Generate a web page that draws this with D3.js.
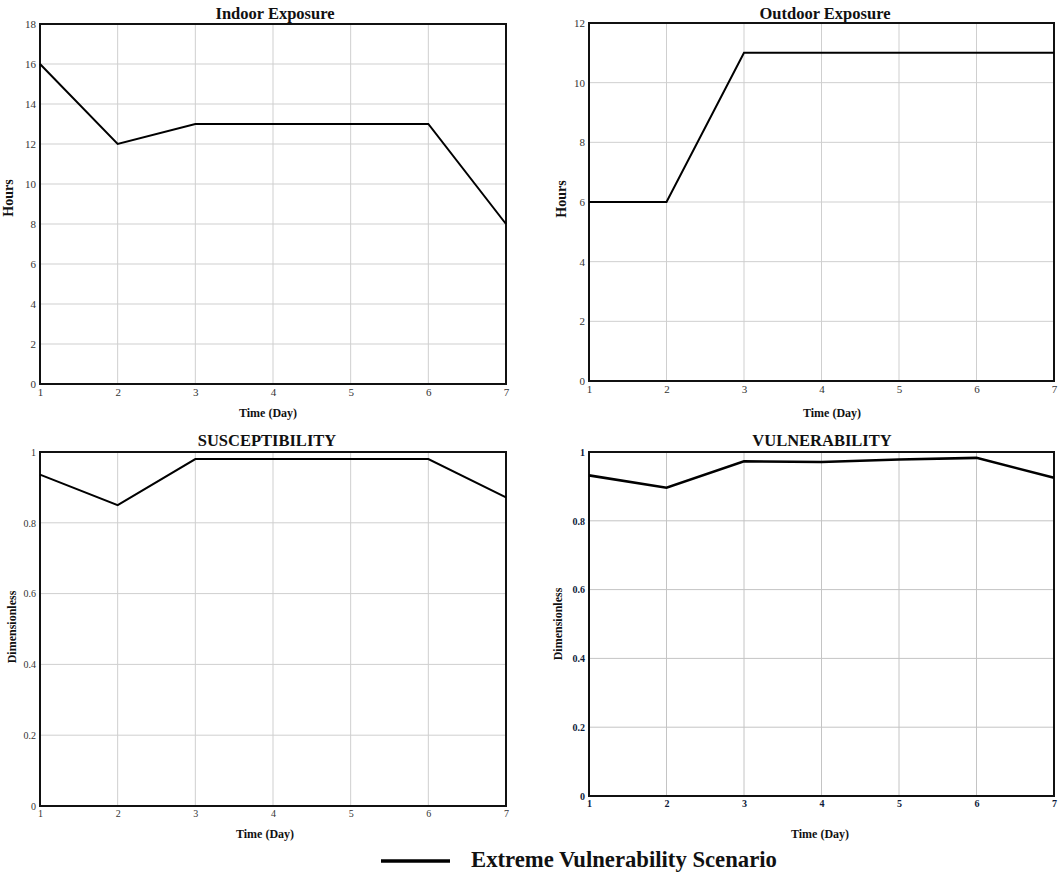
<!DOCTYPE html>
<html>
<head>
<meta charset="utf-8">
<script src="https://cdn.jsdelivr.net/npm/d3@7"></script>
<style>
  html, body { margin: 0; padding: 0; background: #fff; }
  svg { display: block; }
</style>
</head>
<body>
<svg id="chart" width="1059" height="872"></svg>
<script>
// ---- data ----
const days = [1, 2, 3, 4, 5, 6, 7];
const indoorExposure = [16, 12, 13, 13, 13, 13, 8];
const outdoorExposure = [6, 6, 11, 11, 11, 11, 11];
const susceptibility = [0.936, 0.85, 0.98, 0.98, 0.98, 0.98, 0.872];
const vulnerability = [0.932, 0.896, 0.973, 0.971, 0.978, 0.983, 0.925];
const hoursTicksIndoor = [0, 2, 4, 6, 8, 10, 12, 14, 16, 18];
const hoursTicksOutdoor = [0, 2, 4, 6, 8, 10, 12];
const unitTicks = [0, 0.2, 0.4, 0.6, 0.8, 1];
const titles = ["Indoor Exposure", "Outdoor Exposure", "SUSCEPTIBILITY", "VULNERABILITY"];
const yLabels = ["Hours", "Hours", "Dimensionless", "Dimensionless"];
const xLabel = "Time (Day)";
const legendLabel = "Extreme Vulnerability Scenario";

const svg = d3.select("#chart");
const FONT = "'Liberation Serif', 'Times New Roman', serif";

const panels = [
  { values: indoorExposure, yMax: 18, yTicks: hoursTicksIndoor, title: titles[0], yLabel: yLabels[0],
    box: { l: 40, r: 506, t: 24, b: 384 }, titleX: 275, titleY: 13, yLabX: 8, yLabY: 198, yLabSize: 14,
    xLabX: 268, xLabY: 413, tickSize: 11, tickBold: false, tickColor: "#333", lineW: 2, gridColor: "#cfcfcf" },
  { values: outdoorExposure, yMax: 12, yTicks: hoursTicksOutdoor, title: titles[1], yLabel: yLabels[1],
    box: { l: 589, r: 1054, t: 23, b: 381 }, titleX: 825, titleY: 13, yLabX: 561, yLabY: 199, yLabSize: 14,
    xLabX: 832, xLabY: 413, tickSize: 11, tickBold: false, tickColor: "#333", lineW: 2, gridColor: "#cfcfcf" },
  { values: susceptibility, yMax: 1, yTicks: unitTicks, title: titles[2], yLabel: yLabels[2],
    box: { l: 40, r: 506, t: 452, b: 806 }, titleX: 267, titleY: 440, yLabX: 12, yLabY: 627, yLabSize: 12,
    xLabX: 265, xLabY: 834, tickSize: 10, tickBold: false, tickColor: "#333", lineW: 2, gridColor: "#cfcfcf" },
  { values: vulnerability, yMax: 1, yTicks: unitTicks, title: titles[3], yLabel: yLabels[3],
    box: { l: 589, r: 1054, t: 452, b: 796 }, titleX: 822, titleY: 440, yLabX: 558, yLabY: 624, yLabSize: 12,
    xLabX: 820, xLabY: 834, tickSize: 10, tickBold: true, tickColor: "#0d1b3a", lineW: 2.6, gridColor: "#c4c4c4" }
];

panels.forEach(p => {
  const { l, r, t, b } = p.box;
  const x = d3.scaleLinear().domain([1, 7]).range([l, r]);
  const y = d3.scaleLinear().domain([0, p.yMax]).range([b, t]);
  const g = svg.append("g");

  // grid
  g.append("g").selectAll("line.v").data(days).join("line")
    .attr("x1", d => x(d)).attr("x2", d => x(d)).attr("y1", t).attr("y2", b)
    .attr("stroke", p.gridColor).attr("stroke-width", 1);
  g.append("g").selectAll("line.h").data(p.yTicks).join("line")
    .attr("x1", l).attr("x2", r).attr("y1", d => y(d)).attr("y2", d => y(d))
    .attr("stroke", p.gridColor).attr("stroke-width", 1);

  // axes (labels only)
  const xAxis = g.append("g").attr("transform", `translate(0,${b})`)
    .call(d3.axisBottom(x).tickValues(days).tickFormat(d3.format("d")).tickSize(0).tickPadding(4));
  const yAxis = g.append("g").attr("transform", `translate(${l},0)`)
    .call(d3.axisLeft(y).tickValues(p.yTicks).tickFormat(d => String(+d.toFixed(2))).tickSize(0).tickPadding(4));
  [xAxis, yAxis].forEach(a => {
    a.select(".domain").remove();
    a.selectAll("text")
      .attr("font-family", FONT).attr("font-size", p.tickSize)
      .attr("font-weight", p.tickBold ? "bold" : "normal")
      .attr("fill", p.tickColor);
  });

  // frame
  g.append("rect").attr("x", l).attr("y", t).attr("width", r - l).attr("height", b - t)
    .attr("fill", "none").attr("stroke", "#111").attr("stroke-width", 2);

  // line
  const line = d3.line().x((d, i) => x(days[i])).y(d => y(d));
  g.append("path").datum(p.values).attr("d", line)
    .attr("fill", "none").attr("stroke", "#000").attr("stroke-width", p.lineW)
    .attr("stroke-linejoin", "miter");

  // title
  g.append("text").attr("x", p.titleX).attr("y", p.titleY).attr("dy", "0.35em")
    .attr("text-anchor", "middle").attr("font-family", FONT).attr("font-weight", "bold")
    .attr("font-size", 16.5).attr("fill", "#111").text(p.title);

  // x label
  g.append("text").attr("x", p.xLabX).attr("y", p.xLabY).attr("dy", "0.35em")
    .attr("text-anchor", "middle").attr("font-family", FONT).attr("font-weight", "bold")
    .attr("font-size", 12).attr("fill", "#111").text(xLabel);

  // y label
  g.append("text").attr("transform", `translate(${p.yLabX},${p.yLabY}) rotate(-90)`).attr("dy", "0.35em")
    .attr("text-anchor", "middle").attr("font-family", FONT).attr("font-weight", "bold")
    .attr("font-size", p.yLabSize).attr("fill", "#111").text(p.yLabel);
});

// legend
const leg = svg.append("g");
leg.append("line").attr("x1", 381).attr("x2", 450).attr("y1", 861).attr("y2", 861)
  .attr("stroke", "#000").attr("stroke-width", 3.5);
leg.append("text").attr("x", 471).attr("y", 859).attr("dy", "0.35em")
  .attr("font-family", FONT).attr("font-weight", "bold").attr("font-size", 22.7)
  .attr("fill", "#111").text(legendLabel);
</script>
</body>
</html>
